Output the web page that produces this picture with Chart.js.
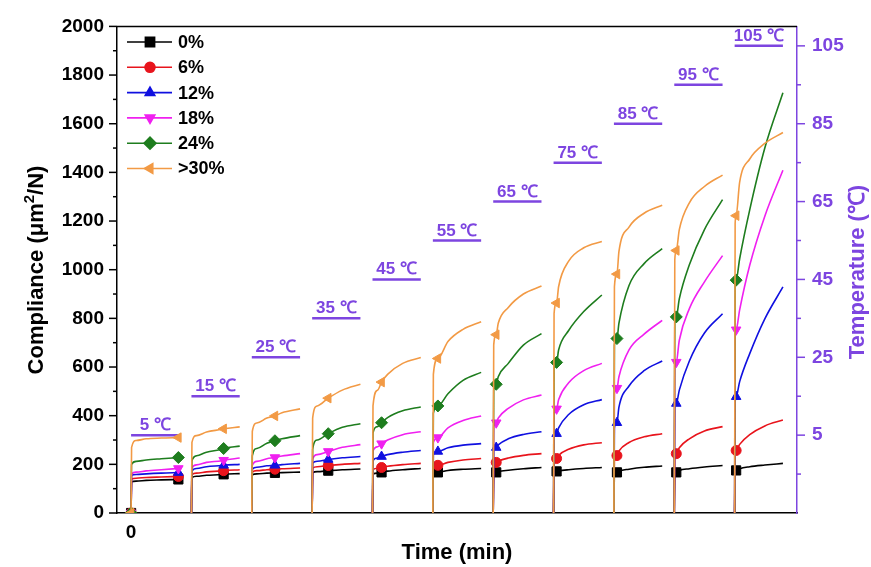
<!DOCTYPE html>
<html>
<head>
<meta charset="utf-8">
<script src="https://cdn.jsdelivr.net/npm/chart.js@4.4.0/dist/chart.umd.min.js"></script>
<style>
html, body { margin: 0; padding: 0; background: #fff; }
</style>
</head>
<body>
<canvas id="chart" width="871" height="567"></canvas>
<script>
// each temperature step: start time (min) and temperature
var segStartMin = [0, 60, 120, 180, 240, 300, 360, 420, 480, 540, 600];
var segTempC = [5, 15, 25, 35, 45, 55, 65, 75, 85, 95, 105];
var markOffsetMin = [47, 32, 23, 16, 9, 5, 3, 3, 3, 2, 1.5];
var readOffsetMin = [0.5, 5, 15, 30, 48];
var seriesNames = ['0%', '6%', '12%', '18%', '24%', '>30%'];
var tempTicks = [5, 25, 45, 65, 85, 105];

// per step: values at readOffsetMin (null = not read), then value at the marker
var c0 = [[128,131,134,136,null,138],[145,151,155,158,162,159],[157,161,164,166,168,165],[165,170,null,178,181,174],[160,164,172,178,183,167],[160,null,175,180,183,167],[160,170,176,182,187,167],[165,173,178,183,187,171],[160,172,180,188,193,167],[160,175,182,189,195,167],[168,182,190,197,204,175]];
var c6 = [[140,143,146,148,null,150],[157,164,169,173,178,174],[168,174,178,182,185,180],[184,190,null,200,204,195],[178,184,192,199,204,187],[188,null,208,218,224,196],[200,213,226,237,244,208],[215,237,262,280,289,224],[228,255,290,313,326,236],[236,268,305,337,355,244],[245,282,322,358,382,257]];
var c12 = [[155,158,161,164,null,166],[172,183,190,195,200,196],[180,188,194,199,204,196],[205,213,null,227,232,220],[215,226,240,250,257,232],[240,null,268,279,285,253],[258,280,305,323,334,269],[312,350,405,445,466,326],[350,435,522,585,625,371],[430,505,625,740,819,450],[455,540,655,798,929,478]];
var c18 = [[160,168,173,178,null,183],[185,198,208,215,226,217],[195,212,223,234,244,228],[222,240,null,270,281,253],[255,272,300,322,334,285],[290,null,350,380,399,310],[355,390,430,465,485,371],[410,465,535,585,615,428],[490,560,670,735,792,513],[600,710,840,950,1058,620],[730,835,1018,1220,1409,753]];
var c24 = [[200,212,218,223,null,228],[215,235,250,262,275,265],[235,265,287,305,318,297],[262,300,null,352,367,326],[330,355,392,420,436,371],[410,null,490,545,578,440],[505,560,615,690,737,529],[595,670,750,828,896,619],[690,780,935,1025,1087,717],[780,880,1020,1165,1288,806],[930,1045,1246,1500,1727,957]];
var c30 = [[270,298,305,308,null,310],[290,318,333,344,354,346],[335,370,390,412,428,399],[390,440,null,505,529,472],[440,505,570,615,639,538],[570,null,705,755,786,635],[690,780,845,900,933,733],[820,930,1035,1090,1116,863],[930,1075,1175,1232,1265,982],[1040,1165,1275,1342,1389,1079],[1190,1360,1455,1519,1564,1222]];

var purple = '#7d45e0';
var fontFam = "'Liberation Sans', Arial, sans-serif";
var colors = ['#000000', '#e8141c', '#1010e0', '#f020f0', '#1e7d1e', '#f29a45'];
var styles = ['rect', 'circle', 'triangle', 'triangle', 'rectRot', 'triangle'];
var rotations = [0, 0, 0, 180, 0, 270];
var markSize = [6.5, 5, 5.5, 5.5, 6, 5.5];
var allSeries = [c0, c6, c12, c18, c24, c30];

function buildSeries(vals) {
    var pts = [];
    segStartMin.forEach(function(t0, i) {
        var v = vals[i];
        var seg = [{x: t0, y: 0, m: i === 0}];
        readOffsetMin.forEach(function(off, j) {
            if (v[j] !== null) seg.push({x: t0 + off, y: v[j]});
        });
        seg.push({x: t0 + markOffsetMin[i], y: v[5], m: true});
        seg.sort(function(a, b) { return a.x - b.x; });
        pts = pts.concat(seg);
        pts.push({x: t0 + 54, y: null});
    });
    return pts;
}

var tempData = [];
segStartMin.forEach(function(t0, i) {
    tempData.push({x: t0, y: segTempC[i]}, {x: t0 + 48, y: segTempC[i]}, {x: t0 + 54, y: null});
});

var datasets = allSeries.map(function(vals, k) {
    return {
        label: seriesNames[k],
        data: buildSeries(vals),
        yAxisID: 'y',
        borderColor: colors[k],
        backgroundColor: colors[k],
        borderWidth: 1.6,
        pointStyle: styles[k],
        pointRotation: rotations[k],
        pointRadius: function(ctx) { return ctx.raw && ctx.raw.m ? markSize[k] : 0; },
        pointBorderWidth: 1,
        cubicInterpolationMode: 'monotone',
        order: 6 - k
    };
});
datasets.push({
    label: 'T',
    data: tempData,
    yAxisID: 'y2',
    borderColor: purple,
    borderWidth: 2.5,
    pointRadius: 0,
    tension: 0,
    order: 10
});

var extrasPlugin = {
    id: 'extras',
    afterDraw: function(chart) {
        var ctx = chart.ctx, a = chart.chartArea;
        var xs = chart.scales.x, ys = chart.scales.y, ys2 = chart.scales.y2;
        ctx.save();
        // top frame line
        ctx.strokeStyle = '#000';
        ctx.lineWidth = 1.5;
        ctx.beginPath();
        ctx.moveTo(a.left, a.top);
        ctx.lineTo(a.right, a.top);
        ctx.stroke();
        // left ticks
        for (var v = 0; v <= 2000; v += 100) {
            var py = ys.getPixelForValue(v);
            ctx.beginPath();
            ctx.moveTo(a.left, py);
            ctx.lineTo(a.left - (v % 200 === 0 ? 8 : 4), py);
            ctx.stroke();
        }
        // right ticks
        ctx.strokeStyle = purple;
        for (var t = -5; t <= 105; t += 10) {
            var py2 = ys2.getPixelForValue(t);
            ctx.beginPath();
            ctx.moveTo(a.right, py2);
            ctx.lineTo(a.right + ((t - 5) % 20 === 0 ? 8 : 4), py2);
            ctx.stroke();
        }
        // temperature step labels
        ctx.fillStyle = purple;
        ctx.font = 'bold 17px ' + fontFam;
        ctx.textAlign = 'center';
        ctx.textBaseline = 'alphabetic';
        segStartMin.forEach(function(t0, i) {
            var x1 = xs.getPixelForValue(t0), x2 = xs.getPixelForValue(t0 + 48);
            var y = ys2.getPixelForValue(segTempC[i]);
            ctx.fillText(segTempC[i] + ' \u2103', (x1 + x2) / 2, y - 5);
        });
        // right axis title, reading bottom to top
        ctx.save();
        ctx.translate(858, 272);
        ctx.rotate(-Math.PI / 2);
        ctx.font = 'bold 22px ' + fontFam;
        ctx.textBaseline = 'middle';
        ctx.fillText('Temperature (\u2103)', 0, 0);
        ctx.restore();
        // left axis title with superscript
        ctx.save();
        ctx.translate(35, 270);
        ctx.rotate(-Math.PI / 2);
        ctx.fillStyle = '#000';
        ctx.textAlign = 'left';
        ctx.textBaseline = 'alphabetic';
        var p1 = 'Compliance (\u03bcm', sup = '2', p2 = '/N)';
        ctx.font = 'bold 22px ' + fontFam;
        var w1 = ctx.measureText(p1).width, w3 = ctx.measureText(p2).width;
        ctx.font = 'bold 15px ' + fontFam;
        var w2 = ctx.measureText(sup).width;
        var x0 = -(w1 + w2 + w3) / 2;
        ctx.font = 'bold 22px ' + fontFam;
        ctx.fillText(p1, x0, 8);
        ctx.fillText(p2, x0 + w1 + w2, 8);
        ctx.font = 'bold 15px ' + fontFam;
        ctx.fillText(sup, x0 + w1, -1);
        ctx.restore();
        // legend
        ctx.font = 'bold 18px ' + fontFam;
        ctx.textAlign = 'left';
        ctx.textBaseline = 'middle';
        seriesNames.forEach(function(name, k) {
            var y = 42 + k * 25.3;
            ctx.strokeStyle = colors[k];
            ctx.fillStyle = colors[k];
            ctx.lineWidth = 1.6;
            ctx.beginPath();
            ctx.moveTo(127, y);
            ctx.lineTo(172, y);
            ctx.stroke();
            Chart.helpers.drawPoint(ctx, {pointStyle: styles[k], rotation: rotations[k], radius: markSize[k], borderWidth: 1}, 150, y);
            ctx.fillStyle = '#000';
            ctx.fillText(name, 178, y + 1);
        });
        ctx.restore();
    }
};

var ctx = document.getElementById('chart').getContext('2d');
var chart = new Chart(ctx, {
    type: 'line',
    data: {datasets: datasets},
    options: {
        responsive: false,
        animation: false,
        layout: {padding: {top: 22, left: 0, right: 0, bottom: 0}},
        plugins: {
            legend: {display: false},
            tooltip: {enabled: false}
        },
        scales: {
            x: {
                type: 'linear',
                min: -14,
                max: 662,
                afterBuildTicks: function(s) { s.ticks = [{value: 0}]; },
                afterFit: function(s) { s.height = 54; },
                grid: {display: false, drawTicks: false},
                border: {color: '#000', width: 1.5},
                ticks: {color: '#000', padding: 8, font: {family: fontFam, size: 19, weight: 'bold'}},
                title: {display: true, text: 'Time (min)', color: '#000', padding: {top: 0, bottom: 1},
                    font: {family: fontFam, size: 22, weight: 'bold'}}
            },
            y: {
                position: 'left',
                min: 0,
                max: 2000,
                afterFit: function(s) { s.width = 117; },
                grid: {display: false, drawTicks: false},
                border: {color: '#000', width: 1.5},
                ticks: {stepSize: 200, color: '#000', padding: 13,
                    callback: function(v) { return String(v); },
                    font: {family: fontFam, size: 19, weight: 'bold'}}
            },
            y2: {
                position: 'right',
                min: -15,
                max: 110,
                afterBuildTicks: function(s) { s.ticks = tempTicks.map(function(v) { return {value: v}; }); },
                afterFit: function(s) { s.width = 74; },
                grid: {display: false, drawTicks: false},
                border: {color: purple, width: 1.5},
                ticks: {color: purple, padding: 15, font: {family: fontFam, size: 19, weight: 'bold'}}
            }
        }
    },
    plugins: [extrasPlugin]
});
</script>
</body>
</html>
